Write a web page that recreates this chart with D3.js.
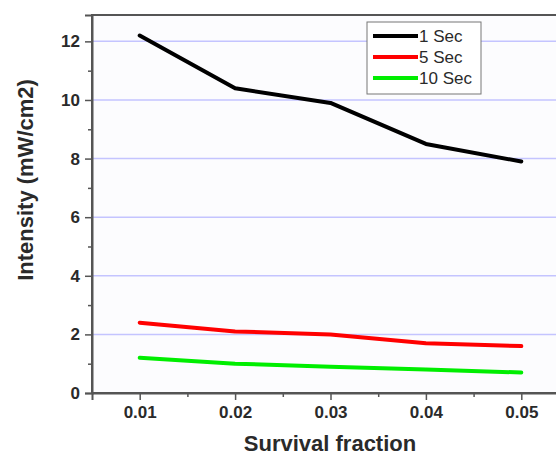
<!DOCTYPE html>
<html>
<head>
<meta charset="utf-8">
<script src="https://cdn.jsdelivr.net/npm/d3@7"></script>
<style>
  body { margin: 0; background: #fff; }
  text { font-family: "Liberation Sans", Arial, sans-serif; }
</style>
</head>
<body>
<div id="chart"></div>
<script>
var fractions = [0.01, 0.02, 0.03, 0.04, 0.05];
var sec1 = [12.2, 10.4, 9.9, 8.5, 7.9];
var sec5 = [2.4, 2.1, 2.0, 1.7, 1.6];
var sec10 = [1.2, 1.0, 0.9, 0.8, 0.7];
var seriesNames = ["1 Sec", "5 Sec", "10 Sec"];
var yTicks = [0, 2, 4, 6, 8, 10, 12];

var series = [
    {name: seriesNames[0], values: sec1, color: "#000000"},
    {name: seriesNames[1], values: sec5, color: "#ff0000"},
    {name: seriesNames[2], values: sec10, color: "#00ee00"}
];

var margin = {top: 15, left: 92},
    W = 556, H = 455,
    plotW = 477, plotH = 393 - margin.top;

var svg = d3.select("#chart").append("svg")
    .attr("width", W)
    .attr("height", H);

var g = svg.append("g")
    .attr("transform", "translate(" + margin.left + "," + margin.top + ")");

var x = d3.scaleLinear().domain([0.005, 0.055]).range([0, plotW]);
var y = d3.scaleLinear().domain([0, 12.9]).range([plotH, 0]);

g.append("rect")
    .attr("width", plotW).attr("height", plotH)
    .attr("fill", "#fcfcfe");

// grid lines
g.selectAll(".grid").data(yTicks.filter(d => d > 0))
    .enter().append("line")
    .attr("x1", 0).attr("x2", plotW)
    .attr("y1", d => y(d)).attr("y2", d => y(d))
    .attr("stroke", "#c4c4ff").attr("stroke-width", 1.5);

// frame
g.append("rect")
    .attr("width", plotW).attr("height", plotH)
    .attr("fill", "none").attr("stroke", "#555").attr("stroke-width", 2);

// x axis
g.append("g")
    .attr("transform", "translate(0," + plotH + ")")
    .call(d3.axisBottom(x).tickValues(fractions).tickFormat(d3.format(".2f")).tickSize(7).tickPadding(6));
g.append("g")
    .attr("transform", "translate(0," + plotH + ")")
    .call(d3.axisBottom(x).tickValues([0.015, 0.025, 0.035, 0.045]).tickFormat("").tickSize(4))
    .select(".domain").remove();

// y axis
g.append("g")
    .call(d3.axisLeft(y).tickValues(yTicks).tickFormat(d3.format("d")).tickSize(7).tickPadding(5));
g.append("g")
    .call(d3.axisLeft(y).tickValues([1, 3, 5, 7, 9, 11]).tickFormat("").tickSize(4))
    .select(".domain").remove();

g.selectAll(".domain").attr("stroke", "#555").attr("stroke-width", 2);
g.selectAll(".tick line").attr("stroke", "#555").attr("stroke-width", 1.5);
g.selectAll(".tick text")
    .attr("fill", "#2a2a2a")
    .style("font-size", "17px")
    .style("font-weight", "bold");

// lines
var line = d3.line()
    .x((d, i) => x(fractions[i]))
    .y(d => y(d));

g.selectAll(".series").data(series)
    .enter().append("path")
    .attr("d", d => line(d.values))
    .attr("fill", "none")
    .attr("stroke", d => d.color)
    .attr("stroke-width", 4)
    .attr("stroke-linejoin", "round")
    .attr("stroke-linecap", "round");

// legend
var legend = svg.append("g").attr("transform", "translate(367,22)");
legend.append("rect")
    .attr("width", 114).attr("height", 72)
    .attr("fill", "#fff").attr("stroke", "#777").attr("stroke-width", 1);
var rows = legend.selectAll(".leg").data(series).enter().append("g")
    .attr("transform", (d, i) => "translate(0," + (14 + i * 21) + ")");
rows.append("line")
    .attr("x1", 6).attr("x2", 51)
    .attr("stroke", d => d.color).attr("stroke-width", 4);
rows.append("text")
    .attr("x", 52).attr("dy", "0.36em")
    .attr("fill", "#2a2a2a")
    .style("font-size", "17px")
    .text(d => d.name);

// axis titles
svg.append("text")
    .attr("x", 330).attr("y", 451)
    .attr("text-anchor", "middle")
    .attr("fill", "#2a2a2a")
    .style("font-size", "22px").style("font-weight", "bold")
    .text("Survival fraction");

svg.append("text")
    .attr("transform", "translate(33,180) rotate(-90)")
    .attr("text-anchor", "middle")
    .attr("fill", "#2a2a2a")
    .style("font-size", "22px").style("font-weight", "bold")
    .text("Intensity (mW/cm2)");
</script>
</body>
</html>
